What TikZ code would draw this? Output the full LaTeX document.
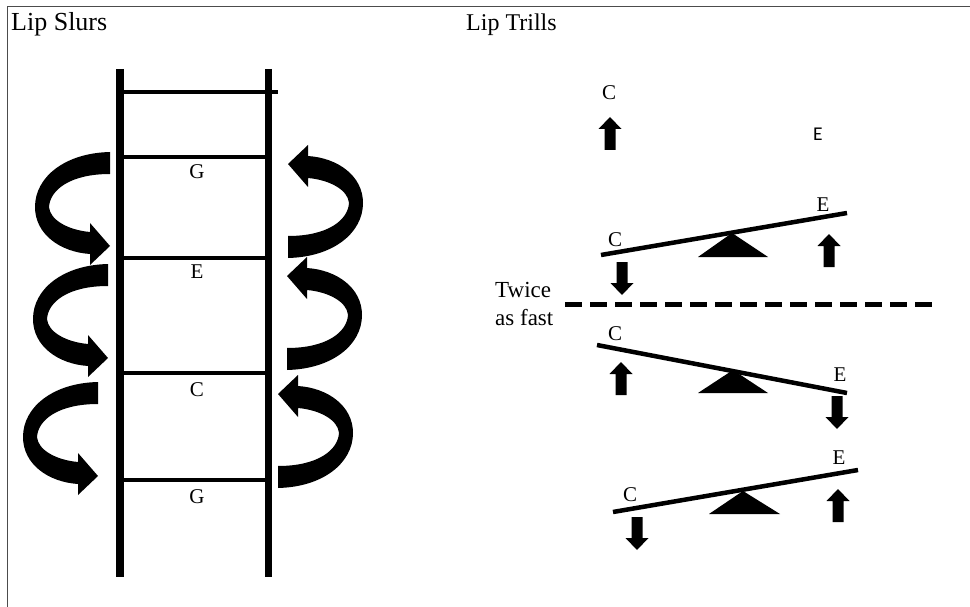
\documentclass[tikz,border=0pt]{standalone}
\usepackage{fontspec}
\setmainfont{Liberation Serif}
\newfontfamily\labsans{Carlito}
\begin{document}
\begin{tikzpicture}[x=1pt,y=-1pt,
  title/.style={inner sep=0pt,anchor=base west,font=\fontsize{24.5}{28}\selectfont},
  lab/.style={inner sep=0pt,font=\fontsize{21}{24}\selectfont},
  rail/.style={line width=7.5pt},
  rung/.style={line width=3.5pt},
  seesaw/.style={line width=4.5pt},
  curvarr/.pic={
    \fill (0,0) .. controls (-45,1) and (-75,25) .. (-75,55)
      .. controls (-75,82) and (-50,100) .. (-20,102)
      -- (-20,113) -- (0,94) -- (-20,71) -- (-20,80)
      .. controls (-42,78) and (-60,68) .. (-61,55)
      .. controls (-60,38) and (-40,22) .. (0,22) -- cycle;
  },
  blockarr/.pic={
    \fill (-5.5,0) -- (-5.5,-21) -- (-11.5,-21) -- (0,-33) -- (11.5,-21) -- (5.5,-21) -- (5.5,0) -- cycle;
  }]
\useasboundingbox (0,0) rectangle (970,607);
% frame
\draw[line width=1pt,color=black!70] (7,607) -- (7,7) -- (970,7);
% titles
\node[title,font=\fontsize{26}{30}\selectfont] (tslurs) at (11,31) {Lip Slurs};
\node[title,font=\fontsize{24}{28}\selectfont] (ttrills) at (466,31) {Lip Trills};
% ladder
\coordinate (lt) at (120,69); \coordinate (lb) at (120,577);
\coordinate (rt) at (268.5,69); \coordinate (rb) at (268.5,577);
\draw[rail] (lt) -- (lb);
\draw[rail] (rt) -- (rb);
\draw[rung] (124,92) -- (278,92);
\foreach \yy in {157,258,373,480} \draw[rung] (124,\yy) -- (265,\yy);
\node[lab] (g1) at (197,172) {G};
\node[lab] (e1) at (197,272) {E};
\node[lab] (c1) at (197,390) {C};
\node[lab] (g2) at (197,497) {G};
% curved arrows
\pic at (110,152) {curvarr};
\begin{scope}[shift={(108,264)},xscale=1.3] \pic at (0,0) {curvarr}; \end{scope}
\pic at (98,382) {curvarr};
\pic[rotate=180] at (288,258) {curvarr};
\pic[rotate=180] at (287,370) {curvarr};
\pic[rotate=180] at (278,488) {curvarr};
% lip trills
\node[lab] (ctop) at (609,93) {C};
\pic at (610,150) {blockarr};
\node[inner sep=0pt,font=\labsans\fontsize{19.5}{22}\selectfont] (etop) at (818,134) {E};
% seesaw 1
\draw[seesaw] (601,255) -- (847,213);
\fill (698,257) -- (768,257) -- (732,233) -- cycle;
\node[lab] (cs1) at (615,240) {C};
\node[lab] (es1) at (823,205) {E};
\pic[rotate=180] at (622,262) {blockarr};
\pic at (829,267) {blockarr};
% dashed line
\coordinate (dl) at (565,304); \coordinate (dr) at (937,304);
\draw[line width=5pt,dash pattern=on 17pt off 8pt] (dl) -- (dr);
\node[title,font=\fontsize{23}{26}\selectfont] (tw) at (495,297) {Twice};
\node[title,font=\fontsize{23}{26}\selectfont] (af) at (495,325) {as fast};
% seesaw 2
\draw[seesaw] (597,345) -- (847,393);
\fill (698,393) -- (768,393) -- (733,370) -- cycle;
\node[lab] (cs2) at (615,334) {C};
\node[lab] (es2) at (840,375) {E};
\pic at (621,395) {blockarr};
\pic[rotate=180] at (837,396) {blockarr};
% seesaw 3
\draw[seesaw] (613,512) -- (858,470);
\fill (709,514) -- (780,514) -- (743,491) -- cycle;
\node[lab] (cs3) at (630,495) {C};
\node[lab] (es3) at (839,458) {E};
\pic[rotate=180] at (637,517) {blockarr};
\pic at (838,522) {blockarr};
\end{tikzpicture}
\end{document}
